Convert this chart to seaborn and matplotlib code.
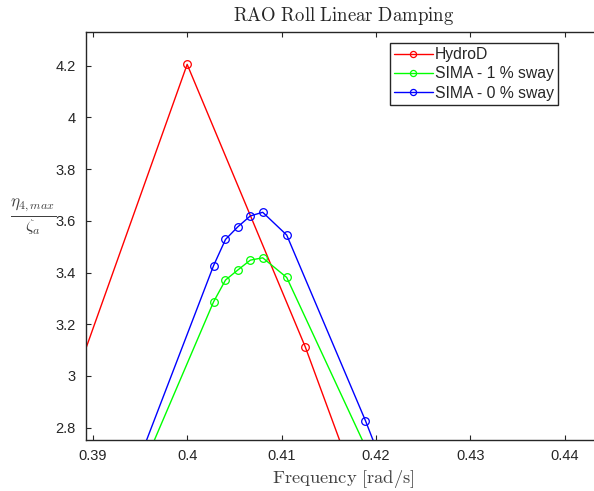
import numpy as np
import pandas as pd
import matplotlib
matplotlib.use("Agg")
import matplotlib.pyplot as plt
import seaborn as sns

# Roll RAO peaks around resonance
hydrod_freq = [0.3875, 0.4000, 0.4125, 0.4250]
hydrod_rao = [2.924, 4.205, 3.113, 1.872]

sima_freq = [0.39270, 0.40280, 0.40406, 0.40537, 0.40669, 0.40800, 0.41054, 0.41888, 0.43332]
sima_1pct_rao = [2.425, 3.287, 3.371, 3.410, 3.448, 3.457, 3.381, 2.726, 1.590]
sima_0pct_rao = [2.466, 3.427, 3.528, 3.577, 3.619, 3.633, 3.545, 2.827, 1.473]

series_names = ["HydroD", "SIMA - 1 % sway", "SIMA - 0 % sway"]
series_colors = ["#ff0000", "#00ff00", "#0000ff"]

xticks = [0.39, 0.40, 0.41, 0.42, 0.43, 0.44]
xtick_labels = ["0.39", "0.4", "0.41", "0.42", "0.43", "0.44"]
yticks = [2.8, 3.0, 3.2, 3.4, 3.6, 3.8, 4.0, 4.2]
ytick_labels = ["2.8", "3", "3.2", "3.4", "3.6", "3.8", "4", "4.2"]

sns.set_style("white")
plt.rcParams["font.family"] = ["Liberation Sans", "DejaVu Sans"]
plt.rcParams["mathtext.fontset"] = "cm"

fig = plt.figure(figsize=(5.94, 4.91), dpi=100)
ax = fig.add_axes([0.1443, 0.1045, 0.8680, 0.8310])

frames = [
    pd.DataFrame({"freq": hydrod_freq, "rao": hydrod_rao}),
    pd.DataFrame({"freq": sima_freq, "rao": sima_1pct_rao}),
    pd.DataFrame({"freq": sima_freq, "rao": sima_0pct_rao}),
]
for df, name, color in zip(frames, series_names, series_colors):
    sns.lineplot(data=df, x="freq", y="rao", ax=ax, color=color, label=name,
                 estimator=None, sort=False, linewidth=1.0, marker="o",
                 markersize=5.5, markerfacecolor="none", markeredgecolor=color,
                 markeredgewidth=0.9)

ax.set_xlim(0.38926, 0.44385)
ax.set_ylim(2.7536, 4.3315)
ax.set_xticks(xticks)
ax.set_xticklabels(xtick_labels)
ax.set_yticks(yticks)
ax.set_yticklabels(ytick_labels)

spine_color = "#262626"
for side in ["left", "bottom", "top"]:
    ax.spines[side].set_visible(True)
    ax.spines[side].set_color(spine_color)
    ax.spines[side].set_linewidth(1.0)
ax.spines["right"].set_visible(False)

ax.tick_params(axis="both", which="major", direction="in", length=3.5,
               width=0.8, color=spine_color, labelcolor=spine_color,
               labelsize=10.5, pad=7, top=True, bottom=True, left=True)

ax.set_title(r"$\mathrm{RAO\ Roll\ Linear\ Damping}$", fontsize=13.5,
             color="#262626", pad=7.5)
ax.set_xlabel(r"$\mathrm{Frequency\ [rad/s]}$", fontsize=13.3, color="#404040",
              labelpad=3)
ax.set_ylabel(r"$\frac{\eta_{4,max}}{\zeta_a}$", fontsize=17.5, color="#404040",
              rotation=0, va="center", ha="center")
ax.yaxis.set_label_coords(-0.102, 0.545)

leg = ax.legend(loc="upper left", bbox_to_anchor=(0.5895, 0.972), frameon=True,
                fancybox=False, framealpha=1.0, edgecolor="#262626",
                fontsize=11.3, handlelength=2.5, handletextpad=0.15,
                borderpad=0.25, labelspacing=0.28, borderaxespad=0.0,
                markerscale=0.8)
leg.get_frame().set_linewidth(1.0)
for t in leg.get_texts():
    t.set_color("#262626")

fig.savefig("out.png", dpi=100)
